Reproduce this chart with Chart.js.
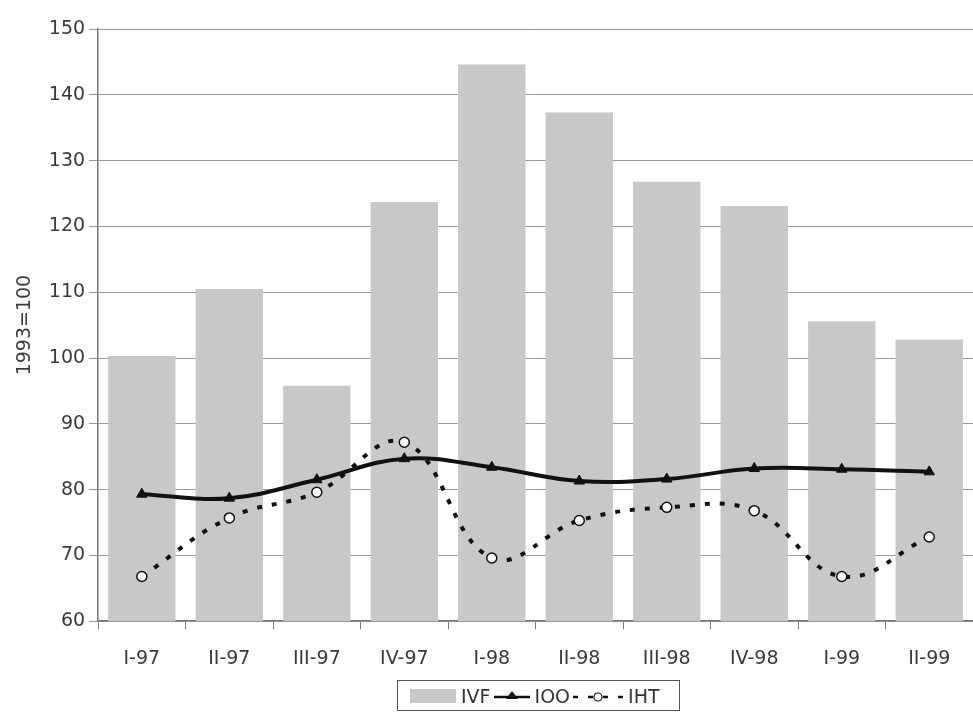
<!DOCTYPE html>
<html>
<head>
<meta charset="utf-8">
<script src="https://cdn.jsdelivr.net/npm/chart.js@4/dist/chart.umd.min.js"></script>
<style>
  html, body { margin: 0; padding: 0; background: #fff; overflow: hidden; }
  #wrap { position: absolute; left: 0; top: 0; width: 980px; height: 717px; }
  #legend {
    position: absolute; left: 397px; top: 680px; height: 31px; width: 283px;
    border: 1px solid #555; box-sizing: border-box;
    display: flex; align-items: center; padding-left: 12px;
    font-family: "DejaVu Sans", sans-serif; font-size: 19px; color: #333;
  }
  #legend span { margin: 0 3px 0 5px; }
</style>
</head>
<body>
<div id="wrap"><canvas id="chart"></canvas></div>
<div id="legend"></div>
<script>
// quarters
const categories = ['I-97', 'II-97', 'III-97', 'IV-97', 'I-98', 'II-98', 'III-98', 'IV-98', 'I-99', 'II-99'];
const ivf = [100.3, 110.5, 95.8, 123.7, 144.6, 137.3, 126.8, 123.1, 105.6, 102.8];
const ioo = [79.3, 78.7, 81.5, 84.7, 83.4, 81.3, 81.6, 83.2, 83.1, 82.7];
const iht = [66.8, 75.7, 79.6, 87.2, 69.6, 75.3, 77.3, 76.8, 66.8, 72.8];
const yTicks = [60, 70, 80, 90, 100, 110, 120, 130, 140, 150];

const barGrey = '#c8c8c8';
const textCol = '#3a3a3a';
const font = { family: 'DejaVu Sans', size: 19 };

const ctx = document.getElementById('chart');
new Chart(ctx, {
  data: {
    labels: categories,
    datasets: [
      {
        type: 'bar', label: 'IVF', data: ivf, order: 3,
        backgroundColor: barGrey, borderWidth: 0,
        barPercentage: 0.77, categoryPercentage: 1
      },
      {
        type: 'line', label: 'IOO', data: ioo, order: 2,
        borderColor: '#111', borderWidth: 4, tension: 0.4,
        pointStyle: 'triangle', pointRadius: 6, pointBackgroundColor: '#111',
        pointBorderColor: '#111', pointBorderWidth: 1
      },
      {
        type: 'line', label: 'IHT', data: iht, order: 1,
        borderColor: '#111', borderWidth: 4, borderDash: [5, 10], tension: 0.4,
        pointStyle: 'circle', pointRadius: 5, pointBackgroundColor: '#fff',
        pointBorderColor: '#111', pointBorderWidth: 1.5
      }
    ]
  },
  options: {
    responsive: true,
    maintainAspectRatio: false,
    animation: false,
    layout: { padding: { top: 29, bottom: 29, left: 14, right: 0 } },
    plugins: {
      legend: { display: false },
      tooltip: { enabled: false }
    },
    scales: {
      x: {
        offset: true,
        grid: { offset: true, drawOnChartArea: false, drawTicks: true, tickLength: 8, color: '#777' },
        border: { color: '#777', width: 1.5 },
        ticks: { color: textCol, font: font, padding: 18, maxRotation: 0 }
      },
      y: {
        min: 60, max: 150,
        afterBuildTicks: axis => { axis.ticks = yTicks.map(v => ({ value: v })); },
        grid: { color: '#9a9a9a', lineWidth: 1, tickLength: 9 },
        border: { color: '#777', width: 1.5 },
        ticks: { color: textCol, font: font, padding: 4 },
        title: { display: true, text: '1993=100', color: textCol, font: font, padding: { top: 0, bottom: 8 } }
      }
    }
  }
});

// legend with little drawn icons
function icon(kind) {
  if (kind === 'bar') {
    return '<svg width="46" height="16"><rect x="0" y="1" width="46" height="14" fill="' + barGrey + '"/></svg>';
  }
  if (kind === 'tri') {
    return '<svg width="36" height="16"><line x1="0" y1="9" x2="36" y2="9" stroke="#111" stroke-width="2.5"/>' +
      '<polygon points="18,3 24,11 12,11" fill="#111"/></svg>';
  }
  return '<svg width="50" height="16"><line x1="0" y1="9" x2="50" y2="9" stroke="#111" stroke-width="2.5" stroke-dasharray="5 10"/>' +
    '<circle cx="25" cy="9" r="4" fill="#fff" stroke="#111" stroke-width="1.2"/></svg>';
}
const legendKinds = ['bar', 'tri', 'circ'];
const legendNames = ['IVF', 'IOO', 'IHT'];
document.getElementById('legend').innerHTML = legendNames
  .map((n, i) => icon(legendKinds[i]) + '<span>' + n + '</span>').join('');
</script>
</body>
</html>
